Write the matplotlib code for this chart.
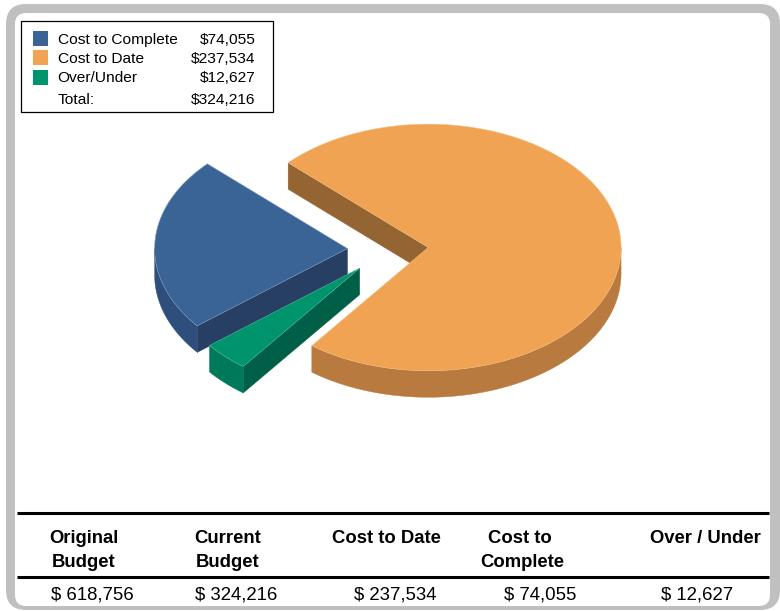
import numpy as np
import matplotlib
matplotlib.use("Agg")
import matplotlib.pyplot as plt
from matplotlib.patches import Polygon, Rectangle, FancyBboxPatch

plt.rcParams['font.family'] = ['Liberation Sans', 'DejaVu Sans']

labels = ["Cost to Complete", "Cost to Date", "Over/Under"]
values = [74055, 237534, 12627]
value_labels = ["$74,055", "$237,534", "$12,627"]
total_label = "$324,216"
# pie is laid out counter-clockwise from the start angle in this order
pie_order = [0, 2, 1]

top_colors = {0: "#3A6496", 1: "#F0A453", 2: "#00946C"}
edge_colors = {0: "#7F9CC0", 1: "#F4BC80", 2: "#4DB89A"}
curve_colors = {0: "#2E4F7C", 1: "#B87A3E", 2: "#00785A"}
cut_colors = {0: "#263F63", 1: "#946432", 2: "#005F47"}

headers = [("Original", 84, 543.3), ("Budget", 84, 566.7),
           ("Current", 228, 543.3), ("Budget", 228, 566.7),
           ("Cost to Date", 386, 543.3),
           ("Cost to", 519.5, 543.3), ("Complete", 522.5, 566.7),
           ("Over / Under", 705.5, 543.3)]
table_values = ["$ 618,756", "$ 324,216", "$ 237,534", "$ 74,055", "$ 12,627"]
table_value_x = [92.5, 236.5, 395, 540.5, 697]

W, H = 780, 611
fig = plt.figure(figsize=(W / 100, H / 100), dpi=100)
ax = fig.add_axes([0, 0, 1, 1])
ax.set_xlim(0, W)
ax.set_ylim(H, 0)
ax.axis("off")

# frame
ax.add_patch(FancyBboxPatch((6 + 20, 4 + 20), 774 - 40, 606 - 40,
                            boxstyle="round,pad=20,rounding_size=20",
                            fc="#C0C0C0", ec="none", zorder=1))
ax.add_patch(FancyBboxPatch((15 + 11, 13 + 11), 755 - 22, 593 - 22,
                            boxstyle="round,pad=11,rounding_size=11",
                            fc="white", ec="none", zorder=1.1))

# pie
CX, CY = 387.9, 249.6
RX, RY = 192.8, 123.3
DEPTH = 26.5
EXPLODE = 0.21
START = 136.6


def pt(cx, cy, deg):
    a = np.radians(deg)
    return cx + RX * np.cos(a), cy - RY * np.sin(a)


def arc(cx, cy, a0, a1, n=200):
    a = np.radians(np.linspace(a0, a1, n))
    return np.column_stack([cx + RX * np.cos(a), cy - RY * np.sin(a)])


total = sum(values)
angle = START
z = 2
for i in pie_order:
    sweep = 360 * values[i] / total
    a0, a1 = angle, angle + sweep
    angle = a1
    mid = np.radians((a0 + a1) / 2)
    cx = CX + EXPLODE * RX * np.cos(mid)
    cy = CY - EXPLODE * RY * np.sin(mid)
    apex = (cx, cy)
    # the cut face at the end of each slice faces the viewer
    p = pt(cx, cy, a1)
    ax.add_patch(Polygon([apex, p, (p[0], p[1] + DEPTH), (cx, cy + DEPTH)],
                         fc=cut_colors[i], ec=cut_colors[i], lw=0.3, zorder=z))
    # curved outer wall: front half only
    for lo, hi in ((180, 360), (540, 720)):
        s, e = max(a0, lo), min(a1, hi)
        if e > s:
            upper = arc(cx, cy, s, e)
            lower = upper[::-1] + np.array([0, DEPTH])
            ax.add_patch(Polygon(np.vstack([upper, lower]), fc=curve_colors[i],
                                 ec=curve_colors[i], lw=0.3, zorder=z))
    top = np.vstack([[apex], arc(cx, cy, a0, a1, 400)])
    ax.add_patch(Polygon(top, closed=True, fc=top_colors[i], ec=edge_colors[i], lw=0.4, zorder=z + 0.5))
    z += 1

# legend
FS = 11.15
ax.add_patch(Rectangle((21, 21), 252, 91, fc="white", ec="black", lw=0.9, zorder=10))
sw_y = [31, 50, 70]
txt_y = [44.3, 63.3, 82.3]
for i in range(3):
    ax.add_patch(Rectangle((33, sw_y[i]), 15, 15, fc=top_colors[i], ec="none", zorder=11))
    ax.text(57.5, txt_y[i], labels[i], fontsize=FS, color="black", va="baseline", zorder=11)
    ax.text(255.5, txt_y[i], value_labels[i], fontsize=FS, color="black", ha="right", va="baseline", zorder=11)
ax.text(57.5, 104.3, "Total:", fontsize=FS, color="black", va="baseline", zorder=11)
ax.text(255.5, 104.3, total_label, fontsize=FS, color="black", ha="right", va="baseline", zorder=11)

# table
ax.plot([17, 769], [512.5, 512.5], color="black", lw=2.2, solid_capstyle="butt", zorder=5)
ax.plot([17, 769], [576.5, 576.5], color="black", lw=2.2, solid_capstyle="butt", zorder=5)
for t, x, y in headers:
    ax.text(x, y, t, fontsize=13.3, fontweight="bold", ha="center", va="baseline", color="black", zorder=6)
for t, x in zip(table_values, table_value_x):
    ax.text(x, 599.3, t, fontsize=13.4, ha="center", va="baseline", color="black", zorder=6)

fig.savefig("out.png", dpi=100)
